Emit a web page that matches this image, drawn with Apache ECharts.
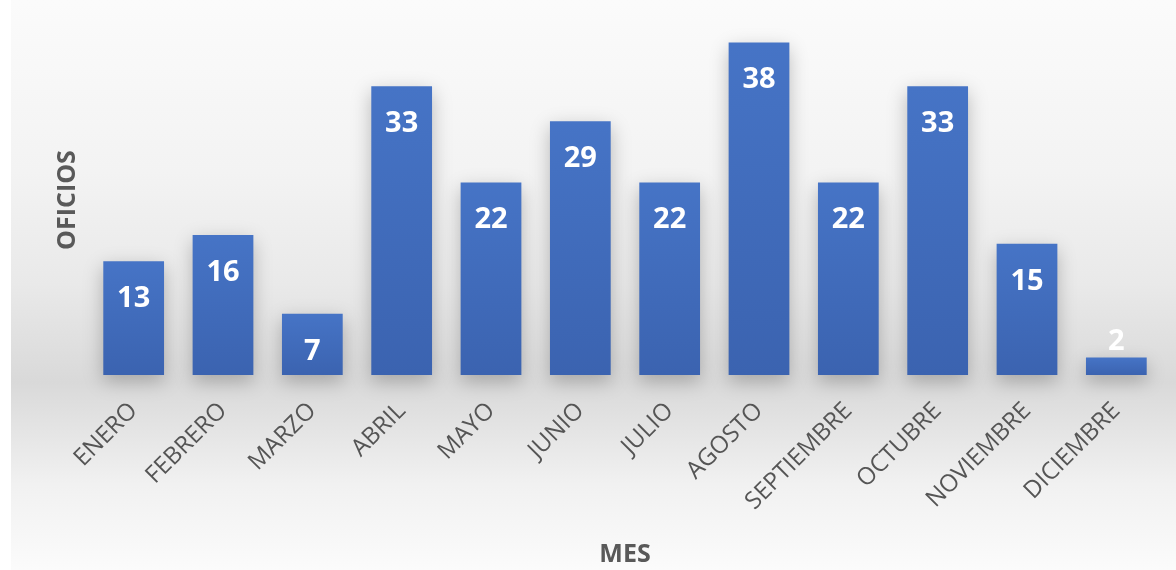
<!DOCTYPE html>
<html>
<head>
<meta charset="utf-8">
<script src="https://cdn.jsdelivr.net/npm/echarts@6/dist/echarts.min.js"></script>
<style>
  html, body { margin: 0; padding: 0; background: #fff; }
  #chart { position: absolute; left: 11px; top: 0; width: 1165px; height: 570px; }
</style>
</head>
<body>
<div id="chart"></div>
<script>
// meses y cantidad de oficios
const categories = ['ENERO', 'FEBRERO', 'MARZO', 'ABRIL', 'MAYO', 'JUNIO', 'JULIO', 'AGOSTO', 'SEPTIEMBRE', 'OCTUBRE', 'NOVIEMBRE', 'DICIEMBRE']
const values = [13, 16, 7, 33, 22, 29, 22, 38, 22, 33, 15, 2]
const xTitle = 'MES'
const yTitle = 'OFICIOS'

const chart = echarts.init(document.getElementById('chart'))

// barras muy bajas: etiqueta encima
const barData = values.map(v => v < 5
  ? { value: v, label: { position: 'top', distance: 1 } }
  : v)

const option = {
  backgroundColor: new echarts.graphic.LinearGradient(0, 0, 0, 1, [
    { offset: 0, color: '#fbfbfb' },
    { offset: 0.3, color: '#f3f3f3' },
    { offset: 0.5, color: '#e9e9e9' },
    { offset: 0.67, color: '#d9d9d9' },
    { offset: 0.85, color: '#f1f1f1' },
    { offset: 1, color: '#fbfbfb' }
  ]),
  grid: {
    left: 78,
    right: 15,
    top: 25,
    bottom: 195,
    outerBoundsMode: 'none'
  },
  xAxis: {
    type: 'category',
    data: categories,
    name: xTitle,
    nameLocation: 'middle',
    nameGap: 167,
    nameTextStyle: { color: '#595959', fontSize: 25, fontWeight: 'bold', fontFamily: 'Open Sans' },
    axisLine: { show: false },
    axisTick: { show: false },
    axisLabel: {
      rotate: 45,
      margin: 32,
      color: '#555',
      fontSize: 24,
      fontFamily: 'Open Sans',
      interval: 0
    }
  },
  yAxis: {
    type: 'value',
    min: 0,
    max: 40,
    name: yTitle,
    nameLocation: 'middle',
    nameGap: 9,
    nameTextStyle: { color: '#595959', fontSize: 25, fontWeight: 'bold', fontFamily: 'Open Sans' },
    axisLine: { show: false },
    axisTick: { show: false },
    axisLabel: { show: false },
    splitLine: { show: false }
  },
  series: [{
    type: 'bar',
    data: barData,
    barWidth: '68%',
    itemStyle: {
      color: new echarts.graphic.LinearGradient(0, 0, 0, 1, [
        { offset: 0, color: '#4674c6' },
        { offset: 1, color: '#3b63b0' }
      ]),
      shadowColor: 'rgba(0, 0, 0, 0.25)',
      shadowBlur: 18,
      shadowOffsetY: 6
    },
    label: {
      show: true,
      position: 'insideTop',
      distance: 23,
      color: '#fff',
      fontSize: 29,
      fontWeight: 'bold',
      fontFamily: 'Open Sans'
    }
  }]
}

chart.setOption(option)
</script>
</body>
</html>
